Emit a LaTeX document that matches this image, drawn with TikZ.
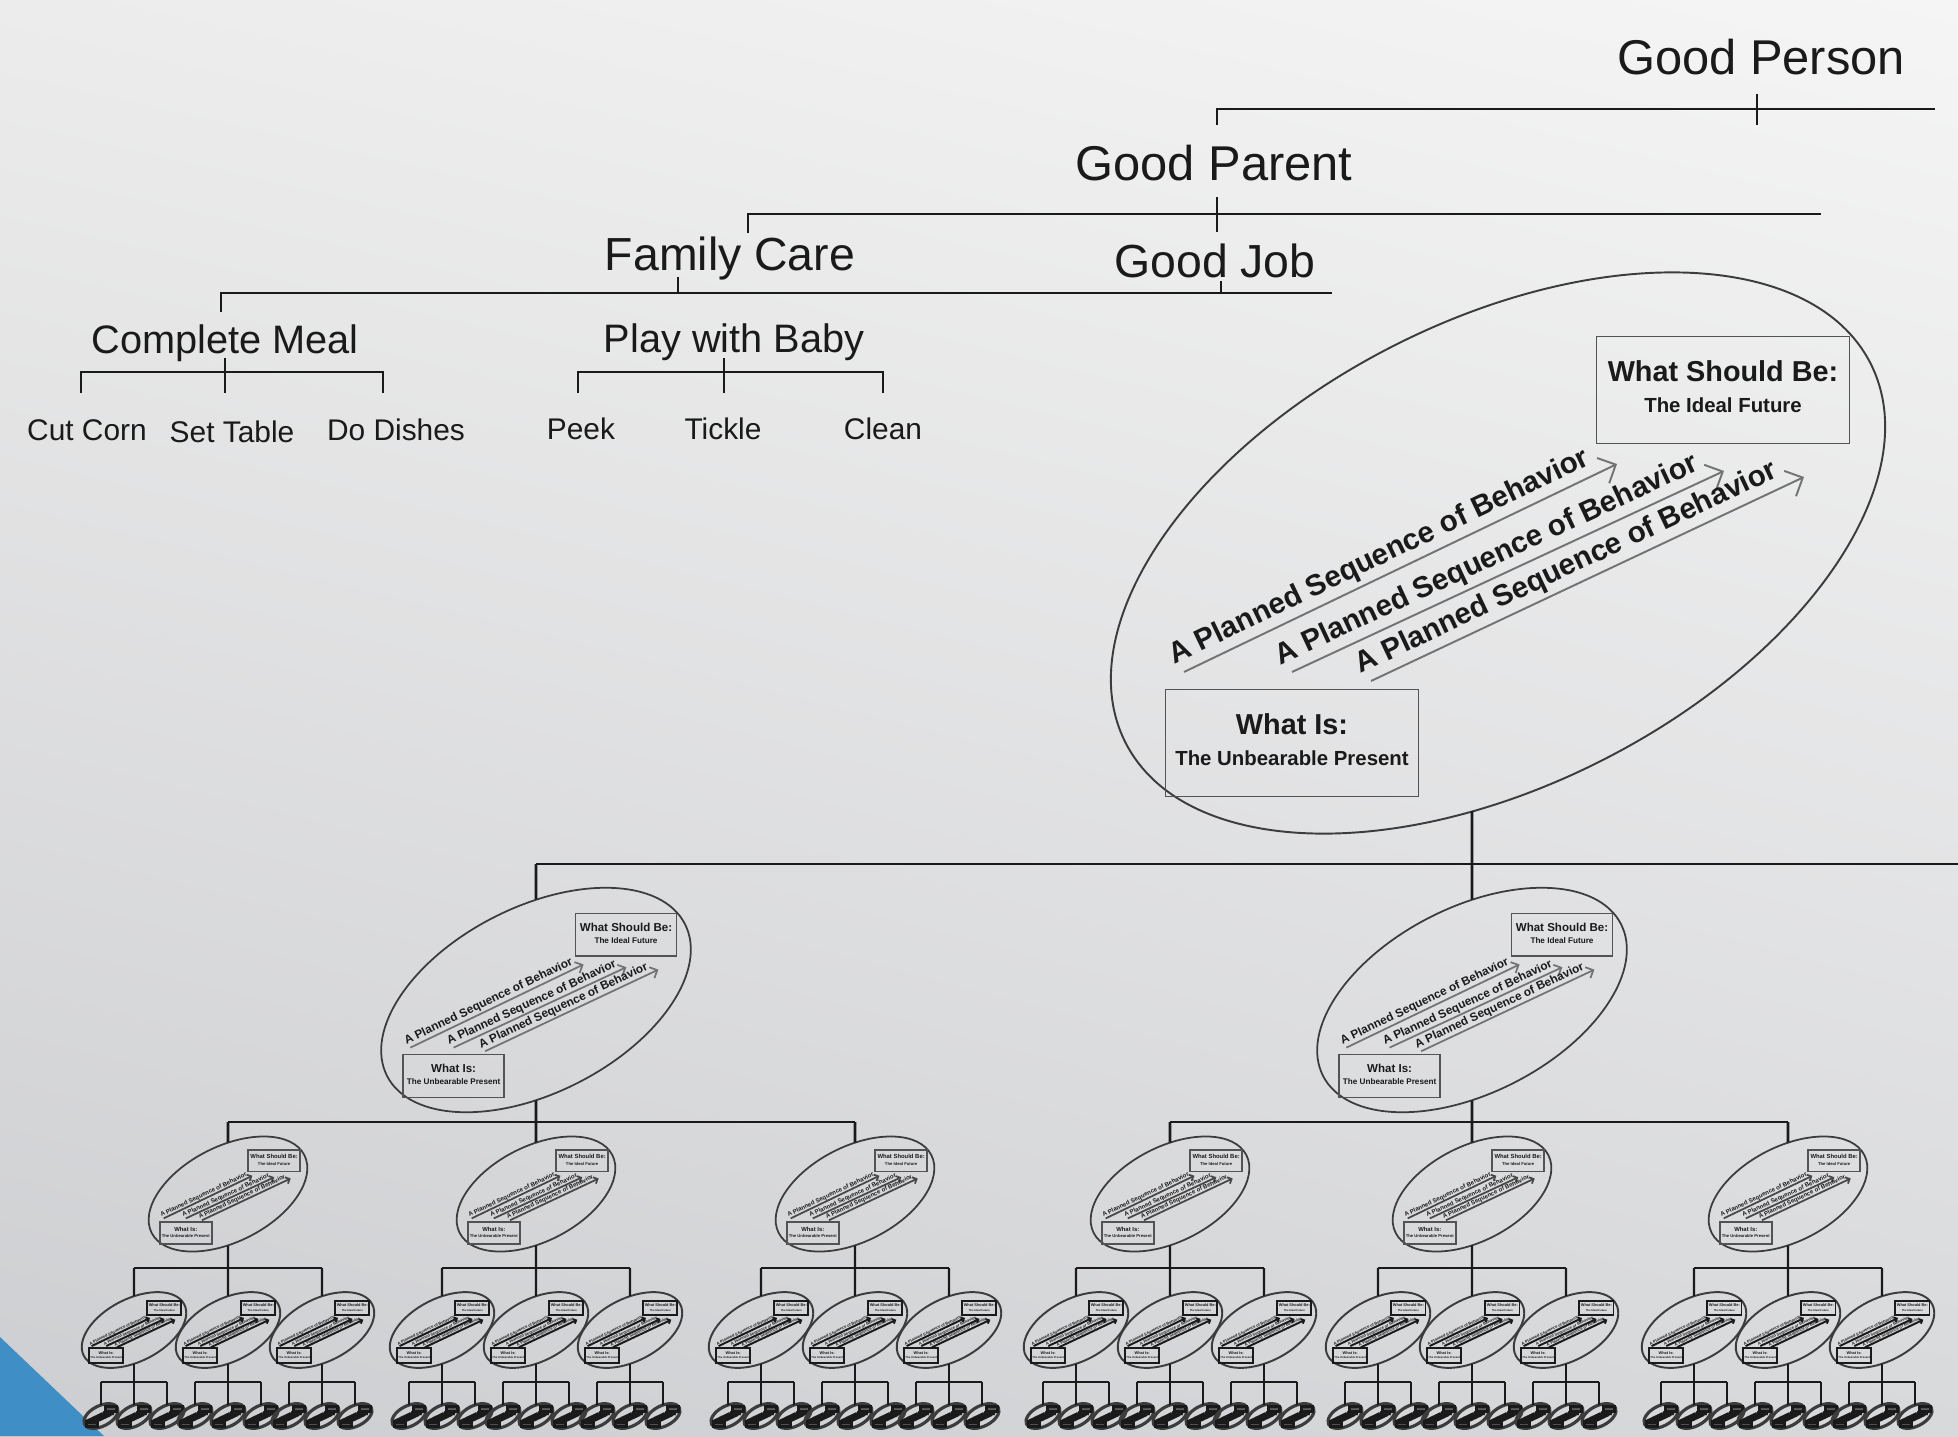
\documentclass[tikz,border=0pt]{standalone}
\usepackage{fontspec}
\setmainfont{Liberation Sans}
\usetikzlibrary{arrows.meta,shapes.geometric,shadings}

\definecolor{bgtopleft}{HTML}{ECECEC}
\definecolor{bgtopright}{HTML}{F5F5F5}
\definecolor{bgbotleft}{HTML}{CDCED1}
\definecolor{bgbotright}{HTML}{D8D9DB}
\definecolor{cornerblue}{HTML}{3F8FC6}
\definecolor{ink}{HTML}{1A1A1A}

\def\seqtip{1.4mm}
\tikzset{
  tip len/.code={\def\seqtip{#1}},
  headline/.style={anchor=base, inner sep=0pt, text=ink, font=\fontsize{13.9}{16}\selectfont},
  midline/.style={anchor=base, inner sep=0pt, text=ink, font=\fontsize{13.2}{15}\selectfont},
  taskline/.style={anchor=base, inner sep=0pt, text=ink, font=\fontsize{11.3}{13}\selectfont},
  leafline/.style={anchor=base, inner sep=0pt, text=ink, font=\fontsize{8.5}{10}\selectfont},
  tree/.style={draw=ink, line width=0.8pt},
  twig/.style={draw=ink, line width=0.6pt},
  leaftwig/.style={draw=ink, line width=0.45pt},
  gapring/.style={ellipse, draw=ink!85, minimum width=83.6mm, minimum height=46.4mm, inner sep=0pt, rotate=27},
  gapbox/.style={draw=ink!75, minimum width=25.3mm, minimum height=10.7mm, inner sep=0pt},
  gaptitle/.style={inner sep=0pt, text=ink, font=\fontsize{8.2}{9}\selectfont\bfseries},
  gapsub/.style={inner sep=0pt, text=ink, font=\fontsize{5.8}{7}\selectfont\bfseries},
  seq/.style={draw=black!55, -{Straight Barb[length=\seqtip]}},
  seqtext/.style={sloped, above, pos=0.47, inner sep=0.4mm, text=ink, font=\fontsize{8.4}{9}\selectfont\bfseries},
  gapunit/.pic={
    \node[gapring] (-ring) at (0,0) {};
    \node[gapbox] (-should) at (225,-163) {};
    \node[gaptitle] (-shouldhead) at (225,-182) {What Should Be:};
    \node[gapsub] (-shouldnote) at (225,-148) {The Ideal Future};
    \node[gapbox] (-is) at (-206,190) {};
    \node[gaptitle] (-ishead) at (-206,171) {What Is:};
    \node[gapsub] (-isnote) at (-206,205) {The Unbearable Present};
    \draw[seq] (-314,119) -- node[seqtext] (-seqa) {A Planned Sequence of Behavior} (119,-89);
    \draw[seq] (-206,119) -- node[seqtext] (-seqb) {A Planned Sequence of Behavior} (226,-82);
    \draw[seq] (-127,128) -- node[seqtext] (-seqc) {A Planned Sequence of Behavior} (306,-76);
  },
  unitone/.style={transform shape, line width=0.55pt, tip len=1.4mm},
  unittwo/.style={scale=0.4, transform shape, line width=0.5pt, tip len=0.6mm},
  unitthree/.style={scale=0.205, transform shape, line width=0.5pt, tip len=0.35mm,
    seq/.append style={draw=ink!80}},
  unitfour/.style={scale=0.135, transform shape, line width=0.55pt, tip len=0.25mm,
    seq/.append style={draw=ink}, gapbox/.append style={draw=ink}},
  unitfive/.style={scale=0.044, transform shape, line width=0.9pt, tip len=0.1mm,
    seq/.append style={draw=ink}, gapbox/.append style={draw=ink, fill=ink!70}},
}

\begin{document}
\begin{tikzpicture}[x=0.1mm, y=-0.1mm]
\useasboundingbox (0,0) rectangle (1958,1436);
\shade[upper left=bgtopleft, upper right=bgtopright, lower left=bgbotleft, lower right=bgbotright] (0,0) rectangle (1958,1436);
\fill[cornerblue] (0,1337) -- (104,1436) -- (0,1436) -- cycle;

% goal tree
\node[headline] (person) at (1761,74) {Good Person};
\node[headline] (parent) at (1214,180) {Good Parent};
\node[midline] (family) at (730,270) {Family Care};
\node[midline] (job) at (1215,277) {Good Job};
\node[taskline] (meal) at (225,353) {Complete Meal};
\node[taskline] (baby) at (734,352) {Play with Baby};
\node[leafline] (corn) at (87,440) {Cut Corn};
\node[leafline] (table) at (232,442) {Set Table};
\node[leafline] (dishes) at (396,440) {Do Dishes};
\node[leafline] (peek) at (581,439) {Peek};
\node[leafline] (tickle) at (723,439) {Tickle};
\node[leafline] (clean) at (883,439) {Clean};

\coordinate (parent-up) at (1217,125);
\coordinate (person-end) at (1935,109);
\coordinate (person-tick) at (1757,94);
\draw[tree] (parent-up) |- (person-end);
\draw[tree] (person-tick) -- ++(0,31);

\coordinate (family-up) at (748,233);
\coordinate (parent-end) at (1821,214);
\coordinate (parent-tick) at (1217,197);
\draw[tree] (family-up) |- (parent-end);
\draw[tree] (parent-tick) -- ++(0,35);

\coordinate (meal-up) at (221,312);
\coordinate (family-end) at (1332,293);
\coordinate (family-tick) at (678,277);
\coordinate (job-tick) at (1221,281);
\draw[tree] (meal-up) |- (family-end);
\draw[tree] (family-tick) -- ++(0,16);
\draw[tree] (job-tick) -- ++(0,12);

\coordinate (corn-up) at (81,393);
\coordinate (dishes-up) at (383,393);
\coordinate (meal-down) at (225,358);
\draw[tree] (corn-up) -- ++(0,-21) -| (dishes-up);
\draw[tree] (meal-down) -- ++(0,35);

\coordinate (peek-up) at (578,393);
\coordinate (clean-up) at (883,393);
\coordinate (baby-down) at (724,358);
\draw[tree] (peek-up) -- ++(0,-21) -| (clean-up);
\draw[tree] (baby-down) -- ++(0,35);

% nested gaps
\pic[unitone] (big) at (1498,553) {gapunit};
\coordinate (bigfoot) at (1472,811);
\pic[unittwo] (m1) at (536,1000) {gapunit};
\pic[unittwo] (m2) at (1472,1000) {gapunit};
\coordinate (m1-top) at (536,864);
\coordinate (rim) at (1958,864);
\draw[tree] (m1-top) -- (rim);
\draw[tree] (m1-top) -- (m1-ring);
\draw[tree] (bigfoot) -- (m2-ring);

\foreach \cc [count=\i] in {228,536,855,1170,1472,1788}{
  \pic[unitthree] (s\i) at (\cc,1194) {gapunit};
  \draw[tree] (\cc,1122) coordinate (s\i-top) -- (s\i-ring);
  \foreach \j in {1,2,3}{
    \pgfmathsetmacro{\cf}{\cc+(\j-2)*94}
    \pic[unitfour] (t\i\j) at (\cf,1330) {gapunit};
    \draw[twig] (\cf,1268) coordinate (t\i\j-top) -- (t\i\j-ring);
    \foreach \k in {1,2,3}{
      \pgfmathsetmacro{\cv}{\cf+(\k-2)*33}
      \pic[unitfive] (u\i\j\k) at (\cv,1416) {gapunit};
      \draw[leaftwig] (\cv,1382) coordinate (u\i\j\k-top) -- (u\i\j\k-ring);
    }
    \draw[leaftwig] (u\i\j1-top) -- (u\i\j3-top);
    \draw[leaftwig] (t\i\j-ring) -- (u\i\j2-top);
  }
  \draw[twig] (t\i1-top) -- (t\i3-top);
  \draw[twig] (s\i-ring) -- (t\i2-top);
}
\draw[tree] (s1-top) -- (s3-top);
\draw[tree] (s4-top) -- (s6-top);
\draw[tree] (m1-ring) -- (s2-top);
\draw[tree] (m2-ring) -- (s5-top);
\end{tikzpicture}
\end{document}
